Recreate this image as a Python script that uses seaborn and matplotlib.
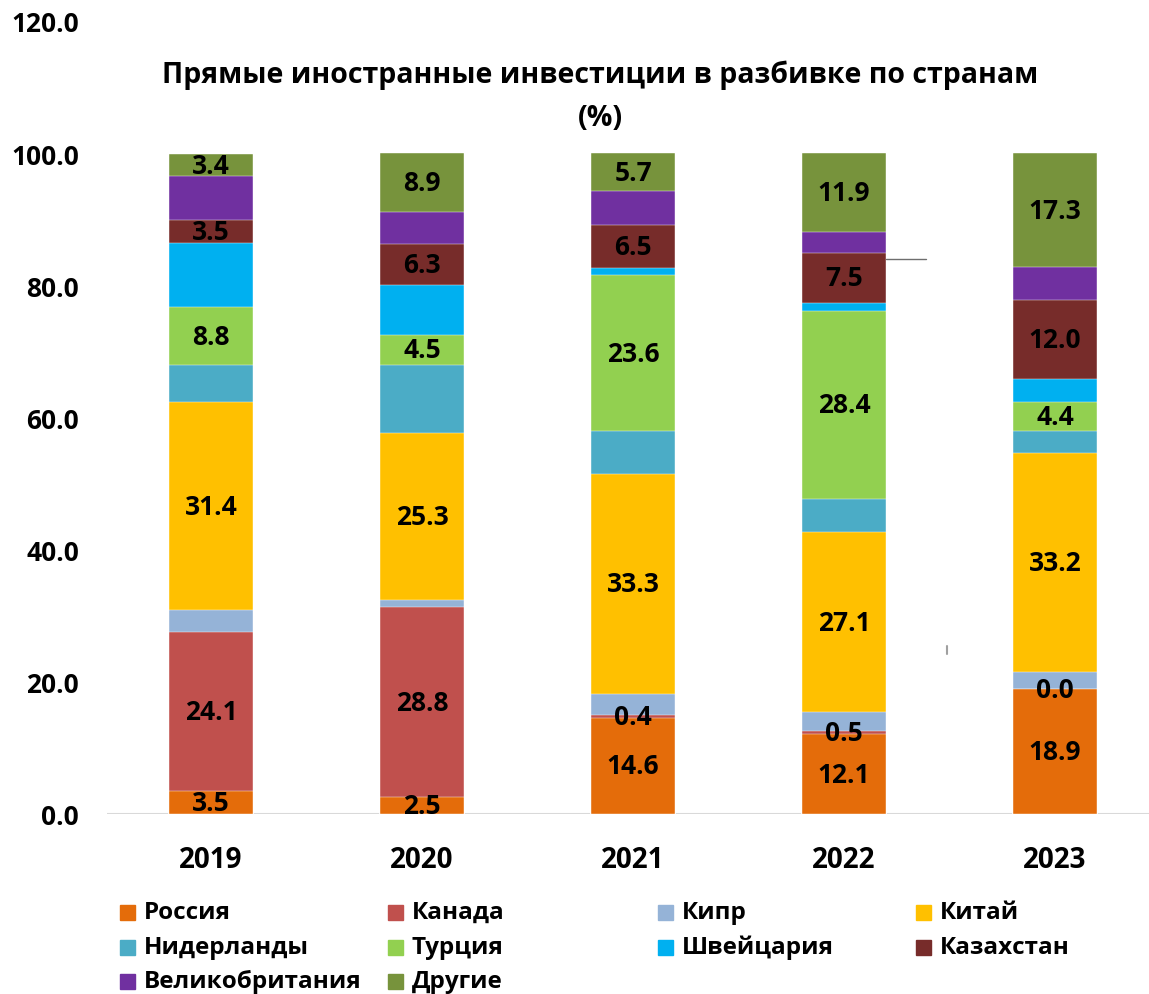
import numpy as np
import pandas as pd
import matplotlib
matplotlib.use('Agg')
import matplotlib.pyplot as plt
import seaborn as sns
from matplotlib.patches import Rectangle
from matplotlib.lines import Line2D

years = ['2019', '2020', '2021', '2022', '2023']
countries = ['Россия', 'Канада', 'Кипр', 'Китай', 'Нидерланды',
             'Турция', 'Швейцария', 'Казахстан', 'Великобритания', 'Другие']
russia = [3.5, 2.5, 14.6, 12.1, 18.9]
canada = [24.1, 28.8, 0.4, 0.5, 0.0]
cyprus = [3.3, 1.1, 3.2, 2.9, 2.6]
china = [31.4, 25.3, 33.3, 27.1, 33.2]
netherlands = [5.6, 10.3, 6.4, 5.1, 3.3]
turkey = [8.8, 4.5, 23.6, 28.4, 4.4]
switzerland = [9.7, 7.5, 1.1, 1.3, 3.4]
kazakhstan = [3.5, 6.3, 6.5, 7.5, 12.0]
uk = [6.6, 4.8, 5.2, 3.2, 4.9]
others = [3.4, 8.9, 5.7, 11.9, 17.3]
labeled = ['Россия', 'Канада', 'Китай', 'Турция', 'Казахстан', 'Другие']

colors = ['#E46C0A', '#C0504D', '#95B3D7', '#FFC000', '#4BACC6',
          '#92D050', '#00B0F0', '#772C2A', '#7030A0', '#77933C']

df = pd.DataFrame([russia, canada, cyprus, china, netherlands, turkey,
                   switzerland, kazakhstan, uk, others],
                  index=countries, columns=years)
cum = df.cumsum()

sns.set_style('white')
plt.rcParams['font.family'] = ['Open Sans', 'DejaVu Sans']
plt.rcParams['font.weight'] = 'bold'
plt.rcParams['text.color'] = 'black'

fig = plt.figure(figsize=(11.49, 9.95), dpi=100)
ax = fig.add_axes([107 / 1149, 180 / 995, 1042 / 1149, 793 / 995])

# stacked bars: draw the tallest cumulative first, then smaller ones over it
for i in range(len(countries) - 1, -1, -1):
    sns.barplot(x=years, y=cum.iloc[i].values, color=colors[i], width=0.4,
                saturation=1, ax=ax, edgecolor='white', linewidth=0.3)

for i, c in enumerate(countries):
    if c not in labeled:
        continue
    for j, y in enumerate(years):
        v = df.loc[c, y]
        ax.text(j, cum.loc[c, y] - v / 2, f'{v:.1f}', ha='center', va='center',
                fontsize=19, fontweight='bold', color='black')

ax.set_xlim(-0.493, 4.445)
ax.set_ylim(0, 120)
ax.set_yticks(np.arange(0, 121, 20))
ax.set_yticklabels([f'{t:.1f}' for t in np.arange(0, 121, 20)])
ax.tick_params(axis='y', length=0, pad=20, labelsize=19, labelcolor='black')
ax.tick_params(axis='x', length=0, pad=22, labelsize=20, labelcolor='black')
for lab in ax.get_xticklabels() + ax.get_yticklabels():
    lab.set_fontweight('bold')
sns.despine(ax=ax, left=True, bottom=True)
ax.axhline(0, color='#D9D9D9', lw=1.5, zorder=0.5)
ax.set_xlabel('')
ax.set_ylabel('')

fig.text(600 / 1149, 1 - 75 / 995, 'Прямые иностранные инвестиции в разбивке по странам',
         ha='center', va='center', fontsize=20.5, fontweight='bold', color='black')
fig.text(600 / 1149, 1 - 118 / 995, '(%)', ha='center', va='center',
         fontsize=20.5, fontweight='bold', color='black')

# legend laid out in a 4-column grid, row by row
col_x = [120, 388, 658, 916]
row_y = [913, 948, 982]
for k, c in enumerate(countries):
    r, col = divmod(k, 4)
    x0, y0 = col_x[col], row_y[r]
    fig.patches.append(Rectangle((x0 / 1149, 1 - (y0 + 8) / 995), 15 / 1149, 15 / 995,
                                 transform=fig.transFigure, color=colors[k]))
    fig.text((x0 + 24) / 1149, 1 - y0 / 995, c, ha='left', va='center',
             fontsize=17.5, fontweight='bold', color='black')

# small stray marks from the source
fig.lines.append(Line2D([886 / 1149, 926 / 1149], [1 - 260 / 995, 1 - 260 / 995],
                        transform=fig.transFigure, color='#6E6E6E', lw=1))
fig.lines.append(Line2D([947 / 1149, 947 / 1149], [1 - 647 / 995, 1 - 655 / 995],
                        transform=fig.transFigure, color='#A0A0A0', lw=1.5))

fig.savefig('out.png', dpi=100)
